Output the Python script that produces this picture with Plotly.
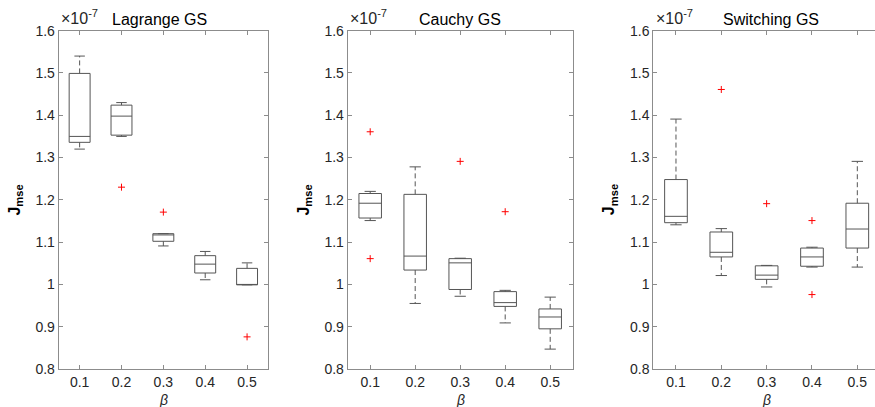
import plotly.graph_objects as go

W, H = 875, 407

# ---------------- data (values in units of 1e-7) ----------------
BETA = ["0.1", "0.2", "0.3", "0.4", "0.5"]
Y_TICKS = [0.8, 0.9, 1.0, 1.1, 1.2, 1.3, 1.4, 1.5, 1.6]

LAG_UPPER = [1.540, 1.430, 1.120, 1.078, 1.051]
LAG_Q3    = [1.499, 1.424, 1.120, 1.068, 1.038]
LAG_MED   = [1.350, 1.398, 1.117, 1.048, 1.000]
LAG_Q1    = [1.336, 1.353, 1.102, 1.027, 0.999]
LAG_LOWER = [1.320, 1.350, 1.091, 1.011, 0.999]
LAG_OUT_X = ["0.2", "0.3", "0.5"]
LAG_OUT_Y = [1.230, 1.171, 0.876]

CAU_UPPER = [1.220, 1.278, 1.062, 0.986, 0.970]
CAU_Q3    = [1.215, 1.213, 1.061, 0.983, 0.942]
CAU_MED   = [1.192, 1.067, 1.051, 0.957, 0.923]
CAU_Q1    = [1.157, 1.034, 0.988, 0.948, 0.895]
CAU_LOWER = [1.151, 0.955, 0.972, 0.909, 0.847]
CAU_OUT_X = ["0.1", "0.1", "0.3", "0.4"]
CAU_OUT_Y = [1.361, 1.061, 1.291, 1.172]

SW_UPPER = [1.391, 1.132, 1.045, 1.088, 1.291]
SW_Q3    = [1.248, 1.124, 1.044, 1.086, 1.192]
SW_MED   = [1.161, 1.076, 1.022, 1.065, 1.131]
SW_Q1    = [1.146, 1.065, 1.012, 1.043, 1.086]
SW_LOWER = [1.141, 1.021, 0.994, 1.041, 1.041]
SW_OUT_X = ["0.2", "0.3", "0.4", "0.4"]
SW_OUT_Y = [1.461, 1.191, 1.151, 0.976]

TITLES = ["Lagrange GS", "Cauchy GS", "Switching GS"]

# ---------------- styling ----------------
BOX_COLOR = "#555555"
AXIS_COLOR = "#8c8c8c"
TEXT_COLOR = "#262626"
FONT = "Liberation Sans, Arial, sans-serif"

# pixel layout of the three axes (left, right) and vertical extent
X_PIX = [(58.7, 268.0), (347.7, 572.7), (653.3, 875.0)]
X_RANGES = [[0.5, 5.5], [0.5, 5.5], [0.5, 5.39]]
Y_TOP, Y_BOT = 30.7, 369.0
TITLE_X = [159, 460, 771]

panels = [
    (LAG_Q1, LAG_MED, LAG_Q3, LAG_LOWER, LAG_UPPER, LAG_OUT_X, LAG_OUT_Y),
    (CAU_Q1, CAU_MED, CAU_Q3, CAU_LOWER, CAU_UPPER, CAU_OUT_X, CAU_OUT_Y),
    (SW_Q1, SW_MED, SW_Q3, SW_LOWER, SW_UPPER, SW_OUT_X, SW_OUT_Y),
]

fig = go.Figure()
HALF_BOX, HALF_CAP = 0.25, 0.125

for k, (q1, med, q3, lo, hi, ox, oy) in enumerate(panels):
    xa = "x" if k == 0 else f"x{k+1}"
    ya = "y" if k == 0 else f"y{k+1}"
    bx, by, wx, wy, cx, cy = [], [], [], [], [], []
    for i, b in enumerate(BETA):
        p = i + 1
        bx += [p - HALF_BOX, p + HALF_BOX, p + HALF_BOX, p - HALF_BOX, p - HALF_BOX, None,
               p - HALF_BOX, p + HALF_BOX, None]
        by += [q1[i], q1[i], q3[i], q3[i], q1[i], None, med[i], med[i], None]
        wx += [p, p, None, p, p, None]
        wy += [q3[i], hi[i], None, q1[i], lo[i], None]
        cx += [p - HALF_CAP, p + HALF_CAP, None, p - HALF_CAP, p + HALF_CAP, None]
        cy += [hi[i], hi[i], None, lo[i], lo[i], None]
    fig.add_trace(go.Scatter(x=wx, y=wy, mode="lines", xaxis=xa, yaxis=ya,
                             line=dict(color=BOX_COLOR, width=1, dash="5px,3px"),
                             hoverinfo="skip", showlegend=False))
    fig.add_trace(go.Scatter(x=cx, y=cy, mode="lines", xaxis=xa, yaxis=ya,
                             line=dict(color=BOX_COLOR, width=1),
                             hoverinfo="skip", showlegend=False))
    fig.add_trace(go.Scatter(x=bx, y=by, mode="lines", xaxis=xa, yaxis=ya,
                             line=dict(color=BOX_COLOR, width=1),
                             hoverinfo="skip", showlegend=False))
    fig.add_trace(go.Scatter(x=[BETA.index(v) + 1 for v in ox], y=oy, mode="markers",
                             xaxis=xa, yaxis=ya,
                             marker=dict(symbol="cross-thin", size=5,
                                         line=dict(color="red", width=1)),
                             hoverinfo="skip", showlegend=False))

layout = dict(
    width=W, height=H,
    margin=dict(l=0, r=0, t=0, b=0, pad=0),
    paper_bgcolor="white", plot_bgcolor="white",
    font=dict(family=FONT, color=TEXT_COLOR, size=14),
    showlegend=False,
)

ydom = [1 - Y_BOT / H, 1 - Y_TOP / H]
annotations = []
for k in range(3):
    sfx = "" if k == 0 else str(k + 1)
    l, r = X_PIX[k]
    layout["xaxis" + sfx] = dict(
        domain=[l / W, r / W], range=X_RANGES[k], anchor="y" + sfx,
        tickvals=[1, 2, 3, 4, 5], ticktext=BETA, automargin=False,
        ticks="inside", ticklen=4, tickcolor=AXIS_COLOR,
        showline=True, linecolor=AXIS_COLOR, linewidth=1, mirror="allticks",
        showgrid=False, zeroline=False, tickfont=dict(size=14, color=TEXT_COLOR),
    )
    layout["yaxis" + sfx] = dict(
        domain=ydom, range=[0.8, 1.6], anchor="x" + sfx,
        tickvals=Y_TICKS, ticktext=[f"{v:g}" for v in Y_TICKS], automargin=False,
        ticks="inside", ticklen=4, tickcolor=AXIS_COLOR,
        showline=True, linecolor=AXIS_COLOR, linewidth=1,
        mirror="allticks" if k < 2 else False,
        showgrid=False, zeroline=False, tickfont=dict(size=14, color=TEXT_COLOR),
    )
    # title
    annotations.append(dict(text=TITLES[k], x=TITLE_X[k] / W, y=1 - 20 / H,
                            xref="paper", yref="paper", xanchor="center", yanchor="middle",
                            showarrow=False, font=dict(size=16, color="black")))
    # exponent
    annotations.append(dict(text="×10<sup>-7</sup>", x=(l + 0.5) / W, y=1 - 29 / H,
                            xref="paper", yref="paper", xanchor="left", yanchor="bottom",
                            showarrow=False, font=dict(size=16, color=TEXT_COLOR)))
    # y label
    annotations.append(dict(text="<b>J<sub>mse</sub></b>", x=(l - 43) / W,
                            y=1 - (Y_TOP + Y_BOT) / 2 / H,
                            xref="paper", yref="paper", xanchor="center", yanchor="middle",
                            textangle=-90, showarrow=False,
                            font=dict(size=16, color="black")))
    # x label
    annotations.append(dict(text="<i>β</i>", x=(l + (r if k < 2 else 880)) / 2 / W,
                            y=1 - 390 / H,
                            xref="paper", yref="paper", xanchor="center", yanchor="top",
                            showarrow=False, font=dict(size=14, color=TEXT_COLOR)))

layout["annotations"] = annotations
fig.update_layout(**layout)
fig.write_html("out.html",
               config={"displayModeBar": False},
               post_script="document.body.style.margin='0';document.body.style.overflow='hidden';")
